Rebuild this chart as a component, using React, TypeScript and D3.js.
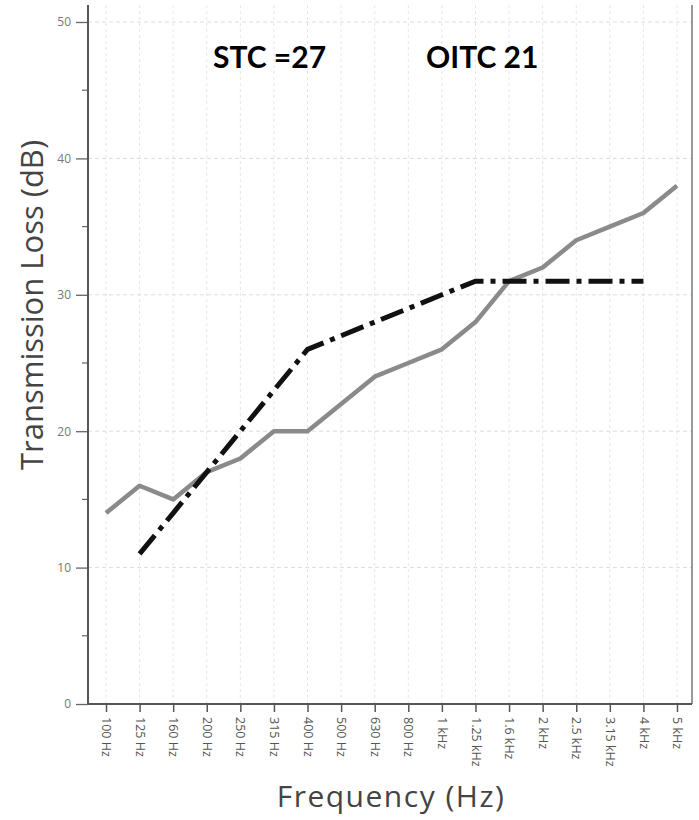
import * as d3 from 'd3';
import React, { useRef, useEffect } from 'react';

// third-octave bands
const bands = ['100 Hz', '125 Hz', '160 Hz', '200 Hz', '250 Hz', '315 Hz', '400 Hz', '500 Hz', '630 Hz', '800 Hz',
  '1 kHz', '1.25 kHz', '1.6 kHz', '2 kHz', '2.5 kHz', '3.15 kHz', '4 kHz', '5 kHz'];
const transmissionLoss = [14, 16, 15, 17, 18, 20, 20, 22, 24, 25, 26, 28, 31, 32, 34, 35, 36, 38];
// STC reference contour, 125 Hz .. 4 kHz
const stcBands = ['125 Hz', '160 Hz', '200 Hz', '250 Hz', '315 Hz', '400 Hz', '500 Hz', '630 Hz', '800 Hz',
  '1 kHz', '1.25 kHz', '1.6 kHz', '2 kHz', '2.5 kHz', '3.15 kHz', '4 kHz'];
const stcContour = [11, 14, 17, 20, 23, 26, 27, 28, 29, 30, 31, 31, 31, 31, 31, 31];
const yTicks = [0, 10, 20, 30, 40, 50];
const yMinor = [5, 15, 25, 35, 45];
const labels = ['STC =27', 'OITC 21'];

const W = 699, H = 820;
const left = 88, right = 692, top = 5, bottom = 704;

function App() {
  const ref = useRef<SVGSVGElement>(null);

  useEffect(() => {
    const svg = d3.select(ref.current);
    svg.selectAll('*').remove();

    const x = d3.scalePoint().domain(bands).range([106, 677]);
    const y = d3.scaleLinear().domain([0, 50]).range([bottom, 22]);

    // grid
    const grid = svg.append('g');
    grid.selectAll('.vg').data(bands).enter().append('line')
      .attr('x1', d => x(d)!).attr('x2', d => x(d)!)
      .attr('y1', top).attr('y2', bottom)
      .attr('stroke', '#e6e6e6').attr('stroke-width', 1).attr('stroke-dasharray', '3,3');
    grid.selectAll('.hg').data(yTicks.slice(1)).enter().append('line')
      .attr('x1', left).attr('x2', right)
      .attr('y1', d => y(d)).attr('y2', d => y(d))
      .attr('stroke', '#dcdcdc').attr('stroke-width', 1).attr('stroke-dasharray', '4,3');

    // frame
    svg.append('line').attr('x1', right).attr('x2', right).attr('y1', top).attr('y2', bottom)
      .attr('stroke', '#777').attr('stroke-width', 1.5);

    // y axis
    const yAxis = d3.axisLeft(y).tickValues(yTicks).tickSize(12).tickPadding(5);
    const gy = svg.append('g').attr('transform', `translate(${left},0)`).call(yAxis);
    gy.select('.domain').remove();
    gy.selectAll('line').attr('stroke', '#666').attr('stroke-width', 1.3);
    gy.selectAll('text').attr('fill', '#777').style('font-size', '12px').style('font-family', 'Open Sans');
    svg.append('g').selectAll('line').data(yMinor).enter().append('line')
      .attr('x1', left - 6).attr('x2', left).attr('y1', d => y(d)).attr('y2', d => y(d))
      .attr('stroke', '#666').attr('stroke-width', 1.2);
    svg.append('line').attr('x1', left).attr('x2', left).attr('y1', top).attr('y2', bottom)
      .attr('stroke', '#555').attr('stroke-width', 2);

    // x axis
    const xAxis = d3.axisBottom(x).tickSize(8).tickPadding(4);
    const gx = svg.append('g').attr('transform', `translate(0,${bottom})`).call(xAxis);
    gx.select('.domain').remove();
    gx.selectAll('line').attr('stroke', '#555').attr('stroke-width', 1.5);
    gx.selectAll('text')
      .attr('fill', '#555').style('font-size', '12.5px').style('font-family', 'Open Sans')
      .attr('text-anchor', 'start').attr('dy', '0.35em')
      .attr('transform', 'translate(0,13) rotate(90)')
      .attr('x', 0).attr('y', 0);
    svg.append('line').attr('x1', left).attr('x2', right).attr('y1', bottom).attr('y2', bottom)
      .attr('stroke', '#555').attr('stroke-width', 2);

    // series
    const tlLine = d3.line<number>().x((d, i) => x(bands[i])!).y(d => y(d));
    svg.append('path').datum(transmissionLoss).attr('d', tlLine)
      .attr('fill', 'none').attr('stroke', '#8a8a8a').attr('stroke-width', 4.5)
      .attr('stroke-linejoin', 'round');

    const stcLine = d3.line<number>().x((d, i) => x(stcBands[i])!).y(d => y(d));
    svg.append('path').datum(stcContour).attr('d', stcLine)
      .attr('fill', 'none').attr('stroke', '#111').attr('stroke-width', 5)
      .attr('stroke-dasharray', '24,7,5,7');

    // annotations
    svg.append('text').text(labels[0]).attr('x', 213).attr('y', 68)
      .style('font-family', 'Lato').style('font-weight', 'bold').style('font-size', '30px').attr('fill', '#000');
    svg.append('text').text(labels[1]).attr('x', 426).attr('y', 68)
      .style('font-family', 'Lato').style('font-weight', 'bold').style('font-size', '30px').attr('fill', '#000');

    // axis titles
    svg.append('text').text('Transmission Loss (dB)')
      .attr('transform', 'translate(43,305) rotate(-90)').attr('text-anchor', 'middle')
      .style('font-family', 'Open Sans').style('font-size', '31px').attr('fill', '#444');
    svg.append('text').text('Frequency (Hz)')
      .attr('x', 391).attr('y', 807).attr('text-anchor', 'middle')
      .style('font-family', 'Open Sans').style('font-size', '30px').style('letter-spacing', '1.5px')
      .attr('fill', '#444');
  }, []);

  return (
    <svg ref={ref} width={W} height={H}
      style={{ position: 'absolute', left: 0, top: 0, background: '#fff' }} />
  );
}

export default App;
